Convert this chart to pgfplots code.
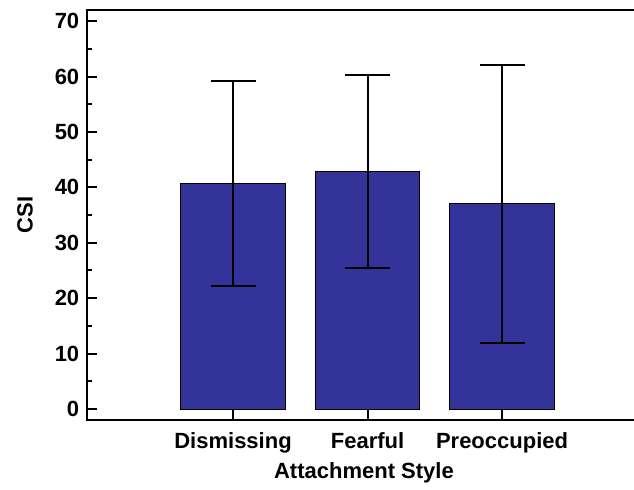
\documentclass[border=0pt]{standalone}
\usepackage{fontspec}
\setmainfont{Liberation Sans}
\usepackage{pgfplots}
\pgfplotsset{compat=1.18}
\definecolor{barblue}{HTML}{333399}

\begin{document}
\begin{tikzpicture}
  \begin{axis}[
      scale only axis,
      width=273.25pt, height=204.75pt,
      ybar, bar width=0.78,
      xmin=-1.082, xmax=2.981,
      ymin=-1.89, ymax=72,
      xtick={0,1,2},
      xticklabels={Dismissing,Fearful,Preoccupied},
      ytick={0,10,...,70},
      minor y tick num=1,
      xtick pos=bottom, ytick pos=left,
      tick align=inside,
      major tick length=5pt, minor tick length=2.5pt,
      every tick/.style={black, line width=1pt},
      axis line style={draw=none},
      clip=false,
      /pgf/number format/assume math mode=true,
      tick label style={font=\bfseries\fontsize{11}{13}\selectfont},
      xticklabel style={yshift=-3pt},
      yticklabel style={xshift=-0.6pt},
      xlabel={Attachment Style},
      ylabel={CSI},
      every axis x label/.style={at={(rel axis cs:0.5,0)}, anchor=center,
        yshift=-26.75pt, xshift=1.6pt, font=\bfseries\fontsize{11}{13}\selectfont},
      every axis y label/.style={at={(rel axis cs:0,0.5)}, anchor=center,
        xshift=-31.25pt, rotate=90, font=\bfseries\fontsize{11}{13}\selectfont},
      error bars/error bar style={line width=1pt, black},
      error bars/error mark options={rotate=90, mark size=11.25pt, line width=1pt, black},
    ]
    \addplot[fill=barblue, draw=black, line width=0.5pt,
      error bars/.cd, y dir=both, y explicit]
      coordinates {
        (0,40.7) +- (0,18.5)
        (1,42.8) +- (0,17.4)
        (2,37.0) +- (0,25.0)
      };
    \draw[line width=1pt, black] (rel axis cs:1,1) -- (rel axis cs:0,1)
      -- (rel axis cs:0,0) -- (rel axis cs:1,0);
    \coordinate (bl) at (rel axis cs:0,0);
    \coordinate (tr) at (rel axis cs:1,1);
  \end{axis}
  \pgfresetboundingbox
  \path ([shift={(-43.75pt,-34.75pt)}]bl) rectangle ([shift={(0pt,5pt)}]tr);
\end{tikzpicture}
\end{document}
